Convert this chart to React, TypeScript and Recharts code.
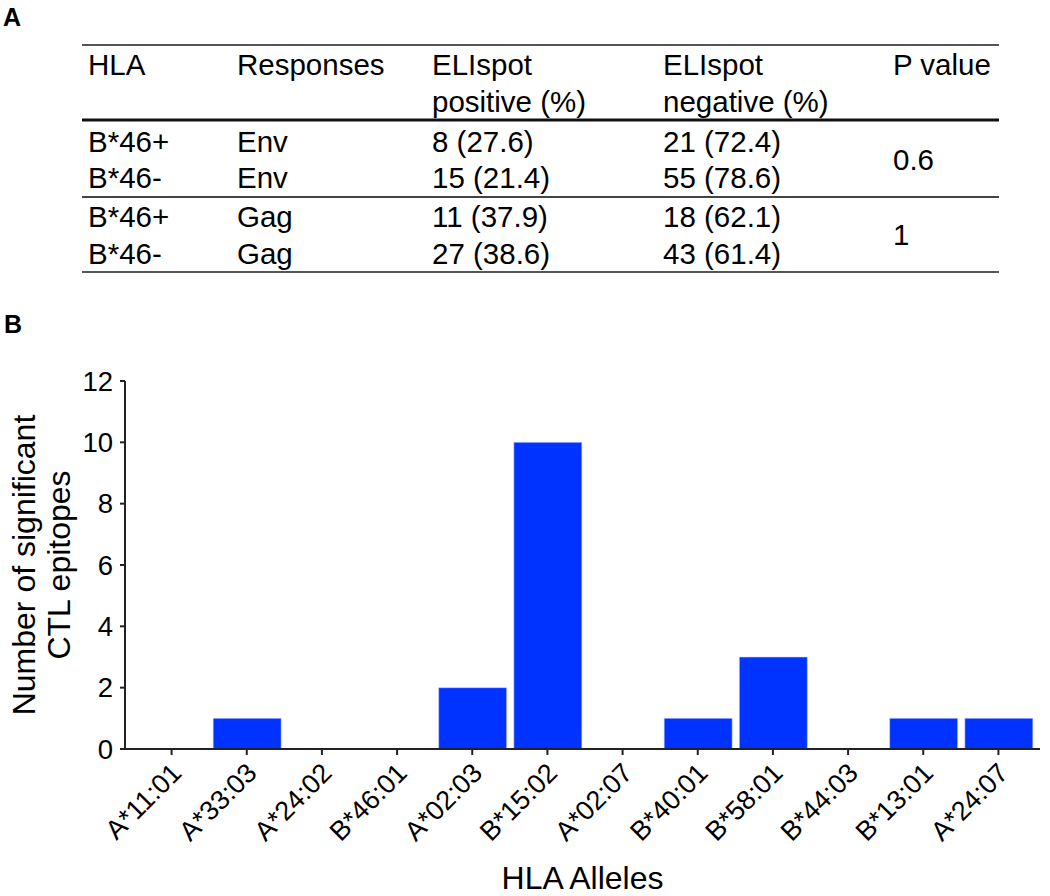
import React from 'react';
import { BarChart, Bar, XAxis, YAxis, Label } from 'recharts';

// Panel A table contents
const headerTop = ['HLA', 'Responses', 'ELIspot', 'ELIspot', 'P value'];
const headerBottom = ['', '', 'positive (%)', 'negative (%)', ''];
const hlaRows = ['B*46+', 'B*46-', 'B*46+', 'B*46-'];
const responseRows = ['Env', 'Env', 'Gag', 'Gag'];
const positiveRows = ['8 (27.6)', '15 (21.4)', '11 (37.9)', '27 (38.6)'];
const negativeRows = ['21 (72.4)', '55 (78.6)', '18 (62.1)', '43 (61.4)'];
const pValues = ['0.6', '1'];

// Panel B bar chart
const alleles = [
  'A*11:01', 'A*33:03', 'A*24:02', 'B*46:01', 'A*02:03', 'B*15:02',
  'A*02:07', 'B*40:01', 'B*58:01', 'B*44:03', 'B*13:01', 'A*24:07',
];
const epitopeCounts = [0, 1, 0, 0, 2, 10, 0, 1, 3, 0, 1, 1];
const yTicks = [0, 2, 4, 6, 8, 10, 12];

const FONT = '"Liberation Sans", Arial, Helvetica, sans-serif';
const BLUE = '#0033ff';

const chartData = alleles.map((name, i) => ({ name, count: epitopeCounts[i] }));

const colX = [88, 237, 432, 663, 893];
const rowBaselines = [152, 188, 227, 264];

const Table = () => (
  <svg width={1050} height={345} style={{ position: 'absolute', left: 0, top: 0 }}>
    <g fontFamily={FONT} fontSize={29.5} fill="#000">
      <text x={3} y={26} fontSize={25} fontWeight="bold">A</text>
      {headerTop.map((t, i) => (
        <text key={'h' + i} x={colX[i]} y={75}>{t}</text>
      ))}
      {headerBottom.map((t, i) => (
        t ? <text key={'hb' + i} x={colX[i]} y={112}>{t}</text> : null
      ))}
      {rowBaselines.map((y, r) => (
        <g key={'r' + r}>
          <text x={colX[0]} y={y}>{hlaRows[r]}</text>
          <text x={colX[1]} y={y}>{responseRows[r]}</text>
          <text x={colX[2]} y={y}>{positiveRows[r]}</text>
          <text x={colX[3]} y={y}>{negativeRows[r]}</text>
        </g>
      ))}
      <text x={colX[4]} y={170}>{pValues[0]}</text>
      <text x={colX[4]} y={245}>{pValues[1]}</text>
      <text x={4} y={333} fontSize={25} fontWeight="bold">B</text>
    </g>
    <line x1={82} x2={999} y1={45} y2={45} stroke="#555" strokeWidth={2} />
    <line x1={82} x2={999} y1={120} y2={120} stroke="#111" strokeWidth={3} />
    <line x1={82} x2={999} y1={197} y2={197} stroke="#444" strokeWidth={2} />
    <line x1={82} x2={999} y1={272} y2={272} stroke="#555" strokeWidth={2} />
  </svg>
);

const AlleleTick = (props: any) => {
  const { x, y, payload } = props;
  const ax = x - 2;
  const ay = y + 4;
  return (
    <text
      x={ax}
      y={ay}
      dy="0.71em"
      transform={`rotate(-45, ${ax}, ${ay})`}
      textAnchor="end"
      fontFamily={FONT}
      fontSize={27}
      fill="#000"
    >
      {payload.value}
    </text>
  );
};

const YTitle = (props: any) => {
  const vb = props.viewBox || { y: 381, height: 368 };
  const cx = 35;
  const cy = vb.y + vb.height / 2;
  return (
    <text
      x={cx}
      y={cy}
      transform={`rotate(-90, ${cx}, ${cy})`}
      textAnchor="middle"
      fontFamily={FONT}
      fontSize={32}
      fill="#000"
    >
      <tspan x={cx} dy={0}>Number of significant</tspan>
      <tspan x={cx} dy={35}>CTL epitopes</tspan>
    </text>
  );
};

const App: React.FC = () => {
  return (
    <div
      style={{
        position: 'absolute',
        left: 0,
        top: 0,
        width: 1050,
        height: 896,
        background: '#fff',
        overflow: 'hidden',
      }}
    >
      <div style={{ position: 'absolute', left: 0, top: 0 }}>
        <BarChart
          width={1050}
          height={896}
          data={chartData}
          margin={{ top: 381, right: 10, left: 25, bottom: 0 }}
        >
          <XAxis
            dataKey="name"
            height={147}
            padding={{ left: 9, right: 4 }}
            interval={0}
            tick={<AlleleTick />}
            tickSize={6}
            tickMargin={2}
            axisLine={{ stroke: '#222', strokeWidth: 2 }}
            tickLine={{ stroke: '#222', strokeWidth: 2 }}
          >
            <Label
              value="HLA Alleles"
              position="insideBottom"
              offset={7}
              fontFamily={FONT}
              fontSize={32}
              fill="#000"
            />
          </XAxis>
          <YAxis
            width={100}
            domain={[0, 12]}
            ticks={yTicks}
            interval={0}
            tickSize={5}
            tickMargin={7}
            tick={{ fontFamily: FONT, fontSize: 27.5, fill: '#000' }}
            axisLine={{ stroke: '#222', strokeWidth: 2 }}
            tickLine={{ stroke: '#222', strokeWidth: 2 }}
            label={<YTitle />}
          />
          <Bar
            dataKey="count"
            fill={BLUE}
            stroke="#c8d0ff"
            strokeWidth={0.6}
            barSize={68}
            isAnimationActive={false}
          />
        </BarChart>
      </div>
      <Table />
    </div>
  );
};

export default App;
